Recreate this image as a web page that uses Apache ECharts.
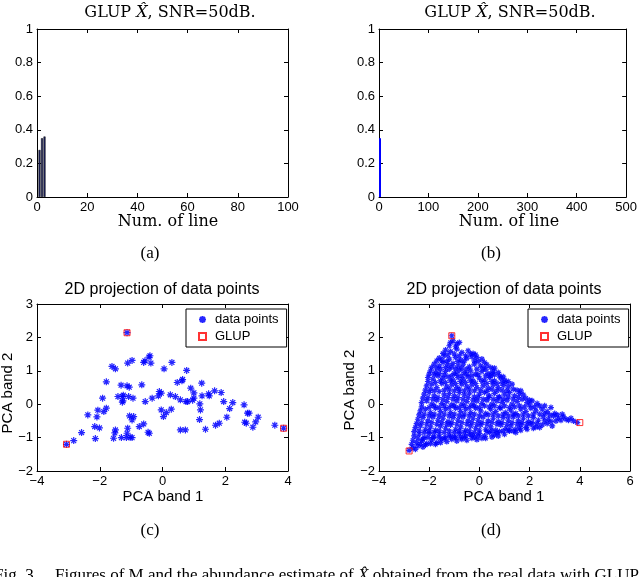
<!DOCTYPE html>
<html>
<head>
<meta charset="utf-8">
<script src="https://cdn.jsdelivr.net/npm/echarts@6/dist/echarts.min.js"></script>
<style>
  html, body { margin: 0; padding: 0; background: #fff; }
  #chart { width: 640px; height: 577px; }
</style>
</head>
<body>
<div id="chart"></div>
<script>
  // ---- data ----
  // (a) bar heights, lines 1..3
  const barLinesA = [1, 2, 3];
  const barValsA = [0.28, 0.35, 0.36];
  // (b) only the first line is visible at this scale
  const barLinesB = [2];
  const barValsB = [0.35];
  const ticksBarXA = [0, 20, 40, 60, 80, 100];
  const ticksBarXB = [0, 100, 200, 300, 400, 500];
  const ticksBarY = [0, 0.2, 0.4, 0.6, 0.8, 1];
  const ticksPcaXC = [-4, -2, 0, 2, 4];
  const ticksPcaXD = [-4, -2, 0, 2, 4, 6];
  const ticksPcaY = [-2, -1, 0, 1, 2, 3];

  // (c) projected data points (PCA band 1, PCA band 2)
  const pointsC = [
    [-1.61,1.13],[-1.50,1.06],[-1.79,0.67],[-1.11,1.23],[-0.97,1.31],[-0.60,1.25],[-0.56,1.30],
    [-0.43,1.41],[-0.40,1.45],[-0.37,1.23],[0.05,1.06],[0.30,1.25],[0.62,0.70],[0.64,0.74],
    [0.47,0.65],[0.77,1.01],[-1.32,0.57],[-1.13,0.55],[-1.06,0.51],[-0.66,0.58],[-1.91,0.18],
    [-1.42,0.23],[-1.27,0.23],[-1.25,0.27],[-1.08,0.23],[-0.94,0.18],[-1.26,0.10],[-1.28,0.06],
    [-0.33,0.18],[-0.13,0.25],[-0.10,0.38],[-0.04,0.33],[-0.55,0.08],[0.25,0.28],[0.41,0.23],
    [0.57,0.13],[0.75,0.08],[0.80,0.08],[0.90,0.48],[1.00,0.34],[1.00,0.18],[0.96,0.12],
    [1.25,0.63],[1.26,0.25],[1.49,0.25],[1.47,0.31],[1.66,0.40],[1.87,0.35],[1.95,0.08],
    [1.19,0.01],[1.21,-0.17],[2.24,0.05],[2.14,-0.13],[2.60,-0.02],[-2.38,-0.32],[-2.06,-0.18],
    [-2.09,-0.38],[-1.87,-0.22],[-1.79,-0.12],[-2.01,-0.71],[-2.16,-0.67],[-2.58,-0.85],
    [-2.83,-1.09],[-2.14,-1.03],[-1.52,-0.86],[-1.50,-0.77],[-1.56,-1.02],[-1.31,-1.00],
    [-1.15,-1.00],[-1.03,-0.99],[-0.97,-1.00],[-1.11,-0.72],[-1.13,-0.87],[-1.05,-0.35],
    [-0.92,-0.37],[-0.97,-0.47],[-0.74,-0.67],[-0.60,-0.59],[-0.46,-0.84],[-0.42,-0.87],
    [-0.04,-0.17],[0.03,-0.37],[0.12,-0.25],[0.28,-0.15],[0.57,-0.77],[0.73,-0.77],[1.18,-0.46],
    [1.37,-0.75],[1.69,-0.63],[1.81,-0.57],[2.05,-0.39],[2.62,-0.54],[2.67,-0.57],[2.71,-0.27],
    [2.76,-0.27],[2.88,-0.69],[2.97,-0.53],[3.05,-0.39],[3.58,-0.63],[3.86,-0.72],[-3.06,-1.20],
    [-1.13,2.14]
  ];
  const glupC = [[-3.06,-1.20],[-1.13,2.14],[3.86,-0.72]];

  // (d) projected data points, denser set
  const pointsD = [
    [-1.10,2.05],[-1.05,1.90],[-0.80,1.85],[-1.20,1.75],[-0.95,1.72],[-1.15,1.85],[-0.90,1.80],
    [-1.35,1.62],[-1.15,1.58],[-0.90,1.65],[-0.70,1.55],[-0.45,1.60],[-0.25,1.52],[-0.55,1.45],[-1.00,1.50],
    [-1.45,1.52],[-1.25,1.48],[-0.80,1.45],[-0.35,1.50],[-0.15,1.48],
    [-1.60,1.38],[-1.40,1.45],[-1.20,1.35],[-0.95,1.40],[-0.75,1.32],[-0.50,1.38],[-0.30,1.42],[-0.10,1.40],[0.10,1.35],[-0.05,1.28],
    [-1.70,1.30],[-1.50,1.32],[-1.30,1.28],[-0.85,1.28],[-0.60,1.30],[-0.20,1.30],[0.20,1.25],
    [-1.80,1.20],[-1.60,1.15],[-1.45,1.25],[-1.25,1.18],[-1.05,1.22],[-0.85,1.15],[-0.65,1.20],[-0.40,1.12],[-0.20,1.20],[0.05,1.15],[0.30,1.18],[0.45,1.10],[0.25,1.05],
    [-1.90,1.10],[-1.70,1.08],[-1.35,1.10],[-1.10,1.12],[-0.95,1.05],[-0.70,1.08],[-0.50,1.05],[-0.10,1.05],[0.15,1.08],[0.60,1.08],
    [-1.95,1.00],[-1.75,0.95],[-1.55,1.05],[-1.35,0.98],[-1.20,1.05],[-1.00,0.92],[-0.80,1.02],[-0.60,0.95],[-0.35,1.00],[-0.15,0.90],[0.10,0.98],[0.35,0.92],[0.55,1.00],[0.75,0.95],[0.45,0.85],[0.60,0.88],
    [-2.00,0.90],[-1.80,0.88],[-1.60,0.92],[-1.40,0.88],[-1.10,0.85],[-0.90,0.90],[-0.70,0.85],[-0.50,0.90],[-0.30,0.85],[-0.05,0.88],[0.25,0.85],[0.50,0.92],[0.80,0.85],[0.95,0.82],
    [-2.05,0.80],[-1.85,0.75],[-1.65,0.85],[-1.45,0.78],[-1.25,0.82],[-1.05,0.72],[-0.85,0.80],[-0.65,0.75],[-0.45,0.82],[-0.25,0.70],[0.00,0.78],[0.20,0.72],[0.40,0.80],[0.60,0.70],[0.85,0.78],[1.00,0.72],[0.70,0.62],
    [-2.05,0.68],[-1.75,0.65],[-1.55,0.70],[-1.35,0.65],[-1.15,0.70],[-0.95,0.62],[-0.75,0.68],[-0.55,0.65],[-0.35,0.70],[-0.15,0.62],[0.10,0.68],[0.30,0.62],[0.50,0.68],[0.90,0.65],[1.15,0.68],
    [-2.10,0.55],[-1.90,0.60],[-1.70,0.50],[-1.50,0.62],[-1.30,0.52],[-1.10,0.58],[-0.90,0.50],[-0.70,0.60],[-0.50,0.52],[-0.30,0.58],[-0.10,0.50],[0.15,0.55],[0.35,0.48],[0.55,0.58],[0.75,0.50],[0.95,0.56],[1.15,0.52],[1.30,0.60],[1.05,0.65],
    [-2.15,0.42],[-1.95,0.45],[-1.80,0.40],[-1.40,0.42],[-1.20,0.45],[-1.00,0.40],[-0.80,0.45],[-0.60,0.40],[-0.40,0.45],[-0.20,0.40],[0.05,0.42],[0.30,0.38],[0.50,0.45],[0.70,0.40],[0.90,0.42],[1.10,0.40],[1.35,0.45],[1.65,0.40],
    [-2.20,0.30],[-2.00,0.35],[-1.80,0.25],[-1.60,0.38],[-1.40,0.28],[-1.20,0.32],[-1.00,0.25],[-0.80,0.35],[-0.60,0.28],[-0.40,0.33],[-0.20,0.22],[0.00,0.30],[0.20,0.35],[0.40,0.25],[0.60,0.32],[0.80,0.22],[1.00,0.30],[1.20,0.35],[1.40,0.25],[1.60,0.32],[1.75,0.28],[1.50,0.42],
    [-2.25,0.18],[-2.05,0.20],[-1.85,0.15],[-1.65,0.20],[-1.45,0.15],[-1.25,0.20],[-1.05,0.15],[-0.85,0.20],[-0.65,0.15],[-0.45,0.20],[-0.25,0.12],[-0.05,0.20],[0.15,0.15],[0.35,0.20],[0.55,0.15],[0.75,0.20],[0.95,0.15],[1.15,0.22],[1.35,0.15],[1.55,0.20],[1.85,0.18],[2.00,0.12],
    [-2.30,0.05],[-2.10,0.10],[-1.90,0.00],[-1.70,0.12],[-1.50,0.02],[-1.30,0.08],[-1.10,-0.02],[-0.90,0.10],[-0.70,0.00],[-0.50,0.08],[-0.30,-0.02],[-0.10,0.10],[0.10,0.02],[0.30,0.12],[0.50,0.00],[0.70,0.10],[0.90,0.05],[1.10,0.12],[1.30,0.00],[1.50,0.08],[1.70,0.15],[1.90,0.05],[2.10,0.10],[2.30,0.02],
    [-2.30,-0.08],[-2.00,-0.10],[-1.80,-0.05],[-1.60,-0.10],[-1.40,-0.05],[-1.20,-0.10],[-1.00,-0.05],[-0.80,-0.10],[-0.60,-0.05],[-0.40,-0.10],[-0.20,-0.05],[0.00,-0.10],[0.20,-0.05],[0.40,-0.08],[0.60,-0.05],[0.80,-0.10],[1.00,-0.05],[1.20,-0.10],[1.40,-0.08],[1.60,-0.05],[1.80,-0.08],[2.00,-0.02],[2.20,-0.08],[2.40,-0.05],[2.60,-0.05],
    [-2.35,-0.20],[-2.15,-0.15],[-1.95,-0.25],[-1.75,-0.12],[-1.55,-0.22],[-1.35,-0.15],[-1.15,-0.25],[-0.95,-0.12],[-0.75,-0.22],[-0.55,-0.15],[-0.35,-0.25],[-0.15,-0.12],[0.05,-0.20],[0.25,-0.28],[0.45,-0.15],[0.65,-0.22],[0.85,-0.12],[1.05,-0.25],[1.25,-0.18],[1.45,-0.28],[1.65,-0.15],[1.85,-0.22],[2.05,-0.12],[2.25,-0.20],[2.50,-0.15],[2.70,-0.22],[2.85,-0.10],
    [-2.40,-0.32],[-2.20,-0.30],[-2.00,-0.35],[-1.80,-0.30],[-1.60,-0.35],[-1.40,-0.30],[-1.20,-0.35],[-1.00,-0.30],[-0.80,-0.35],[-0.60,-0.30],[-0.40,-0.35],[-0.20,-0.30],[0.00,-0.35],[0.35,-0.32],[0.55,-0.30],[0.75,-0.35],[0.95,-0.30],[1.15,-0.35],[1.35,-0.30],[1.55,-0.35],[1.75,-0.30],[1.95,-0.35],[2.15,-0.30],[2.40,-0.30],[2.60,-0.28],[2.80,-0.32],[3.10,-0.32],
    [-2.45,-0.45],[-2.25,-0.40],[-2.05,-0.50],[-1.85,-0.38],[-1.65,-0.48],[-1.45,-0.42],[-1.25,-0.52],[-1.05,-0.40],[-0.85,-0.48],[-0.65,-0.38],[-0.45,-0.50],[-0.25,-0.42],[-0.05,-0.48],[0.15,-0.38],[0.35,-0.50],[0.55,-0.42],[0.75,-0.52],[0.95,-0.40],[1.15,-0.48],[1.35,-0.38],[1.55,-0.50],[1.75,-0.42],[1.95,-0.52],[2.15,-0.40],[2.35,-0.48],[2.55,-0.38],[2.75,-0.45],[2.95,-0.35],[3.15,-0.42],[3.35,-0.38],[3.55,-0.48],[3.75,-0.50],[3.90,-0.55],[3.30,-0.30],[3.00,-0.28],
    [-2.50,-0.58],[-2.30,-0.55],[-2.10,-0.60],[-1.90,-0.55],[-1.70,-0.60],[-1.50,-0.55],[-1.30,-0.60],[-1.10,-0.55],[-0.90,-0.60],[-0.70,-0.55],[-0.50,-0.60],[-0.30,-0.55],[-0.10,-0.60],[0.10,-0.55],[0.30,-0.60],[0.50,-0.55],[0.70,-0.60],[0.90,-0.55],[1.10,-0.60],[1.30,-0.55],[1.50,-0.60],[1.70,-0.55],[1.90,-0.60],[2.10,-0.55],[2.30,-0.58],[2.60,-0.50],[2.85,-0.52],[3.05,-0.50],[3.25,-0.48],[3.45,-0.45],[3.65,-0.42],
    [-2.55,-0.70],[-2.35,-0.65],[-2.15,-0.75],[-1.95,-0.68],[-1.75,-0.78],[-1.55,-0.65],[-1.35,-0.72],[-1.15,-0.62],[-0.95,-0.75],[-0.75,-0.68],[-0.55,-0.78],[-0.35,-0.65],[-0.15,-0.72],[0.05,-0.62],[0.25,-0.75],[0.45,-0.68],[0.65,-0.78],[0.85,-0.62],[1.05,-0.72],[1.25,-0.65],[1.45,-0.75],[1.65,-0.62],[1.85,-0.70],[2.05,-0.60],[2.25,-0.68],[2.50,-0.62],[2.70,-0.58],[2.90,-0.65],
    [-2.60,-0.82],[-2.40,-0.80],[-2.20,-0.85],[-2.00,-0.80],[-1.80,-0.85],[-1.60,-0.80],[-1.40,-0.85],[-1.20,-0.80],[-1.00,-0.85],[-0.80,-0.80],[-0.60,-0.85],[-0.40,-0.80],[-0.20,-0.85],[0.00,-0.78],[0.30,-0.82],[0.50,-0.80],[0.70,-0.85],[0.95,-0.80],[1.15,-0.78],[1.35,-0.80],[1.60,-0.72],[1.90,-0.75],[2.15,-0.72],[2.40,-0.70],
    [-2.60,-0.95],[-2.40,-0.90],[-2.20,-1.00],[-2.00,-0.88],[-1.80,-0.98],[-1.60,-0.90],[-1.40,-1.02],[-1.20,-0.92],[-1.00,-0.98],[-0.80,-0.88],[-0.60,-1.00],[-0.40,-0.90],[-0.20,-0.98],[0.00,-0.88],[0.20,-0.95],[0.40,-0.85],[0.60,-0.92],[0.80,-0.82],[1.00,-0.90],[1.20,-0.80],[1.45,-0.85],[1.65,-0.78],
    [-2.65,-1.08],[-2.45,-1.02],[-2.25,-1.05],[-2.05,-1.00],[-1.85,-1.00],[-1.60,-1.00],[-1.35,-1.00],[-1.15,-0.98],[-0.95,-1.00],[-0.75,-0.98],[-0.55,-0.95],[-0.30,-0.92],[-0.05,-0.95],[0.25,-1.02],[0.50,-0.98],[0.75,-0.95],
    [-2.70,-1.20],[-2.50,-1.15],[-2.30,-1.10],[-2.10,-1.18],[-1.90,-1.08],[-1.70,-1.15],[-1.50,-1.05],[-1.30,-1.12],[-1.10,-1.05],[-0.90,-1.10],[-0.70,-1.05],[-0.50,-1.08],[-0.30,-1.02],[-0.10,-1.06],[0.10,-1.02],
    [-2.35,-1.20],[-2.15,-1.22],[-1.95,-1.18],[-1.75,-1.20],[-1.55,-1.15],
    [-2.80,-1.38],[-2.65,-1.30],[-2.45,-1.25],[-2.25,-1.28],[-2.55,-1.35]
  ];
  const glupD = [[-2.80,-1.40],[-1.10,2.05],[4.00,-0.55]];

  const SANS = 'Liberation Sans, Arial, Helvetica, sans-serif';
  const SERIF = 'DejaVu Serif, serif';
  const CAPTION = 'Liberation Serif, Times New Roman, serif';
  const ASTERISK = 'path://M5,0L5,10M0,5L10,5M1.5,1.5L8.5,8.5M1.5,8.5L8.5,1.5';

  const minus = v => String(v).replace('-', '\u2212');

  // one box = four axes (bottom/left carry labels, top/right only ticks)
  function xAxes(grid, ticks) {
    const base = {
      gridIndex: grid, type: 'value',
      min: ticks[0], max: ticks[ticks.length - 1], interval: ticks[1] - ticks[0],
      axisLine: { onZero: false, lineStyle: { color: '#000', width: 1 } },
      axisTick: { inside: true, length: 4, lineStyle: { color: '#000' } },
      splitLine: { show: false }
    };
    return [
      Object.assign({}, base, { position: 'bottom',
        axisLabel: { color: '#000', fontSize: 13, fontFamily: SANS, margin: 4, formatter: minus } }),
      Object.assign({}, base, { position: 'top', axisLabel: { show: false } })
    ];
  }
  function yAxes(grid, ticks) {
    const base = {
      gridIndex: grid, type: 'value',
      min: ticks[0], max: ticks[ticks.length - 1], interval: ticks[1] - ticks[0],
      axisLine: { onZero: false, lineStyle: { color: '#000', width: 1 } },
      axisTick: { inside: true, length: 4, lineStyle: { color: '#000' } },
      splitLine: { show: false }
    };
    return [
      Object.assign({}, base, { position: 'left',
        axisLabel: { color: '#000', fontSize: 13, fontFamily: SANS, margin: 4, formatter: minus } }),
      Object.assign({}, base, { position: 'right', axisLabel: { show: false } })
    ];
  }

  function text(x, y, str, font, size, rot, align) {
    return {
      type: 'text', x: x, y: y, rotation: rot || 0,
      style: {
        text: str, fontFamily: font, fontSize: size, fill: '#000',
        align: align || 'center', verticalAlign: 'middle',
        rich: { i: { fontStyle: 'italic', fontFamily: font, fontSize: size } }
      }
    };
  }

  function scatterPair(xi, yi, pts, glup, size) {
    return [
      {
        name: 'data points', type: 'scatter', xAxisIndex: xi, yAxisIndex: yi,
        data: pts, symbol: ASTERISK, symbolSize: size,
        itemStyle: { color: '#0000ff', borderColor: '#0000ff', borderWidth: 1.2, opacity: 0.85 },
        emphasis: { disabled: true }
      },
      {
        name: 'GLUP', type: 'scatter', xAxisIndex: xi, yAxisIndex: yi,
        data: glup, symbol: 'rect', symbolSize: 6,
        itemStyle: { color: 'rgba(0,0,0,0)', borderColor: '#ff0000', borderWidth: 1 },
        emphasis: { disabled: true }, z: 3
      }
    ];
  }

  function legendAt(left) {
    return {
      left: left, top: 309, orient: 'vertical',
      data: ['data points', 'GLUP'],
      backgroundColor: '#fff', borderColor: '#000', borderWidth: 1, borderRadius: 0,
      padding: [4, 8, 4, 12], itemGap: 4, itemWidth: 7, itemHeight: 7,
      textStyle: { fontFamily: SANS, fontSize: 13, color: '#000', padding: [0, 0, 0, 4] },
      selectedMode: false
    };
  }

  const chart = echarts.init(document.getElementById('chart'), null, { renderer: 'canvas' });
  const option = {
    animation: false,
    backgroundColor: '#fff',
    grid: [
      { left: 37, top: 29, width: 251, height: 168 },
      { left: 379, top: 29, width: 251, height: 168 },
      { left: 37, top: 304, width: 251, height: 167 },
      { left: 379, top: 304, width: 251, height: 167 }
    ],
    xAxis: [].concat(xAxes(0, ticksBarXA), xAxes(1, ticksBarXB), xAxes(2, ticksPcaXC), xAxes(3, ticksPcaXD)),
    yAxis: [].concat(yAxes(0, ticksBarY), yAxes(1, ticksBarY), yAxes(2, ticksPcaY), yAxes(3, ticksPcaY)),
    legend: [legendAt(186), legendAt(528)],
    series: [
      {
        type: 'bar', xAxisIndex: 0, yAxisIndex: 0, barWidth: 2,
        data: barLinesA.map((x, i) => [x, barValsA[i]]),
        itemStyle: { color: '#1f2466', borderColor: '#000', borderWidth: 0.5 }
      },
      {
        type: 'bar', xAxisIndex: 2, yAxisIndex: 2, barWidth: 2,
        data: barLinesB.map((x, i) => [x, barValsB[i]]),
        itemStyle: { color: '#0000ff' }
      }
    ].concat(scatterPair(4, 4, pointsC, glupC, 7), scatterPair(6, 6, pointsD, glupD, 6)),
    graphic: [
      text(170, 13, 'GLUP {i|X\u0302}, SNR=50dB.', SERIF, 16),
      text(510, 13, 'GLUP {i|X\u0302}, SNR=50dB.', SERIF, 16),
      text(168, 222, 'Num. of line', SERIF, 16),
      text(509, 222, 'Num. of line', SERIF, 16),
      text(150, 254, '(a)', CAPTION, 17),
      text(491, 254, '(b)', CAPTION, 17),
      text(162, 290, '2D projection of data points', SANS, 16),
      text(504, 290, '2D projection of data points', SANS, 16),
      text(163, 497, 'PCA band 1', SANS, 15),
      text(504, 497, 'PCA band 1', SANS, 15),
      text(8, 393, 'PCA band 2', SANS, 15, Math.PI / 2),
      text(350, 390, 'PCA band 2', SANS, 15, Math.PI / 2),
      text(150, 531, '(c)', CAPTION, 17),
      text(491, 531, '(d)', CAPTION, 17),
      // first line of the figure caption, cut by the bottom edge
      text(-6, 576, 'Fig. 3.    Figures of M and the abundance estimate of {i|X\u0302} obtained from the real data with GLUP', CAPTION, 17, 0, 'left')
    ]
  };
  chart.setOption(option);
</script>
</body>
</html>
